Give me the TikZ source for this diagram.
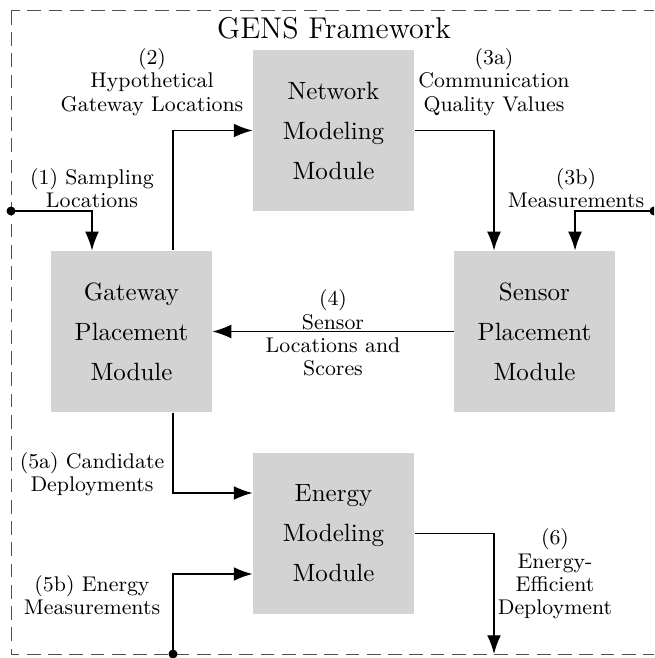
\documentclass[tikz,border=0pt]{standalone}
\usepackage{xcolor}
\usetikzlibrary{arrows.meta,calc}

\definecolor{modgray}{RGB}{211,211,211}
\definecolor{framegray}{RGB}{80,80,80}

\tikzset{
    module/.style={fill=modgray, minimum width=64.4pt, minimum height=64.4pt,
        align=center, inner sep=0pt, font=\fontsize{10}{16}\selectfont},
    flow/.style={-{Latex[length=7.5pt,width=5.5pt]}, line width=0.5pt},
    lbl/.style={align=center, inner sep=0pt, font=\fontsize{8.5}{9.3}\selectfont},
    port/.style={fill=black}
}

\begin{document}
\begin{tikzpicture}[x=0.4pt,y=-0.4pt]
            \clip (0,0) rectangle (654,658);
            \draw[framegray, dash pattern=on 5.5pt off 3pt] (11,11) rectangle (690,654);
            \node[font=\large] (title) at (334,28) {GENS Framework};

            \node[module] (nw) at (333.5,130.5) {Network\\Modeling\\Module};
            \node[module] (gw) at (131.5,331.5) {Gateway\\Placement\\Module};
            \node[module] (sp) at (534.5,331.5) {Sensor\\Placement\\Module};
            \node[module] (em) at (333.5,533.5) {Energy\\Modeling\\Module};

            \coordinate (in1) at (11,211);
            \coordinate (in3) at (654,211);
            \coordinate (in5) at (173,654);
            \coordinate (out6) at (494,654);

            \draw[flow] (in1) -| ([xshift=-15.8pt]gw.north);
            \draw[flow] ([xshift=16.6pt]gw.north) |- (nw.west);
            \draw[flow] (nw.east) -| ([xshift=-16.2pt]sp.north);
            \draw[flow] (in3) -| ([xshift=16.2pt]sp.north);
            \draw[flow] (sp.west) -- (gw.east);
            \draw[flow] ([xshift=16.6pt]gw.south) |- ([yshift=16.2pt]em.west);
            \draw[flow] (in5) |- ([yshift=-16.2pt]em.west);
            \draw[flow] (em.east) -| (out6);

            \fill[port] (in1) circle (1.8pt);
            \fill[port] (in3) circle (1.8pt);
            \fill[port] (in5) circle (1.8pt);

            \node[lbl] (l1) at (92,188) {(1) Sampling\\Locations};
            \node[lbl] (l2) at (152,82) {(2)\\Hypothetical\\Gateway Locations};
            \node[lbl] (l3a) at (494,82) {(3a)\\Communication\\Quality Values};
            \node[lbl] (l3b) at (576,188) {(3b)\\Measurements};
            \node[lbl] (l4) at (333,333) {(4)\\Sensor\\Locations and\\Scores};
            \node[lbl] (l5a) at (92,474) {(5a) Candidate\\Deployments};
            \node[lbl] (l5b) at (92,595) {(5b) Energy\\Measurements};
            \node[lbl] (l6) at (555,574) {(6)\\Energy-\\Efficient\\Deployment};
        \end{tikzpicture}
\end{document}
